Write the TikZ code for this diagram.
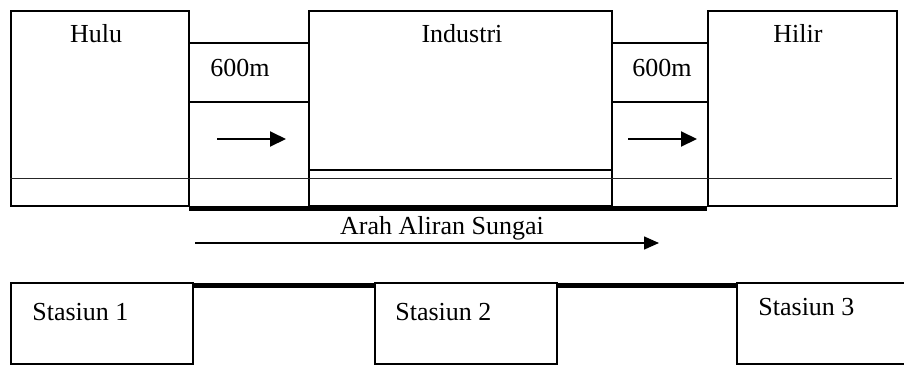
\documentclass[tikz,border=0pt]{standalone}
\usepackage{fontspec}
\setmainfont{Liberation Serif}
\usetikzlibrary{arrows.meta}
\tikzset{
  boxline/.style={draw=black, line width=1pt},
  thickline/.style={draw=black, line width=2.5pt},
  riverline/.style={draw=black!85, line width=0.8pt},
  flowarrow/.style={draw=black, line width=1pt, -{Triangle[length=8pt,width=7.5pt]}},
  mainarrow/.style={draw=black, line width=0.75pt, -{Triangle[length=7.5pt,width=6.5pt]}},
  lbl/.style={inner sep=0pt, font=\fontsize{13}{15}\selectfont},
}
\begin{document}
\begin{tikzpicture}[x=0.5pt, y=-0.5pt]
\useasboundingbox (0,0) rectangle (904,365);
% top row boxes
\draw[boxline] (11,11) rectangle (189,206);
\draw[boxline] (309,11) rectangle (612,206);
\draw[boxline] (708,11) rectangle (897,206);
% gap 1
\draw[boxline] (189,43) -- (309,43);
\draw[boxline] (189,102) -- (309,102);
% gap 2
\draw[boxline] (612,43) -- (708,43);
\draw[boxline] (612,102) -- (708,102);
% industri inner line
\draw[boxline] (309,170) -- (612,170);
% river line
\draw[riverline] (10,178.5) -- (892,178.5);
% thick bottom
\draw[thickline] (189,208.5) -- (707,208.5);
% texts top
\node[lbl, anchor=base] (hulu) at (96,42) {Hulu};
\node[lbl, anchor=base] (industri) at (462,42) {Industri};
\node[lbl, anchor=base] (hilir) at (798,42) {Hilir};
\node[lbl, anchor=base west] (d1) at (210,76) {600m};
\node[lbl, anchor=base west] (d2) at (632,76) {600m};
% small arrows
\coordinate (a1s) at (217,139); \coordinate (a1e) at (286,139);
\coordinate (a2s) at (628,139); \coordinate (a2e) at (697,139);
\draw[flowarrow] (a1s) -- (a1e);
\draw[flowarrow] (a2s) -- (a2e);
% main arrow
\node[lbl, anchor=base] (arah) at (442,234) {Arah Aliran Sungai};
\coordinate (ms) at (195,243); \coordinate (me) at (659,243);
\draw[mainarrow] (ms) -- (me);
% bottom stations
\draw[boxline] (11,283) rectangle (193,364);
\draw[boxline] (375,283) rectangle (557,364);
\draw[boxline] (905,283) -- (737,283) -- (737,364) -- (905,364);
\draw[thickline] (193,285) -- (375,285);
\draw[thickline] (557,285) -- (737,285);
\node[lbl, anchor=base west] (s1) at (32,320) {Stasiun 1};
\node[lbl, anchor=base west] (s2) at (395,320) {Stasiun 2};
\node[lbl, anchor=base west] (s3) at (758,315) {Stasiun 3};
\end{tikzpicture}
\end{document}
